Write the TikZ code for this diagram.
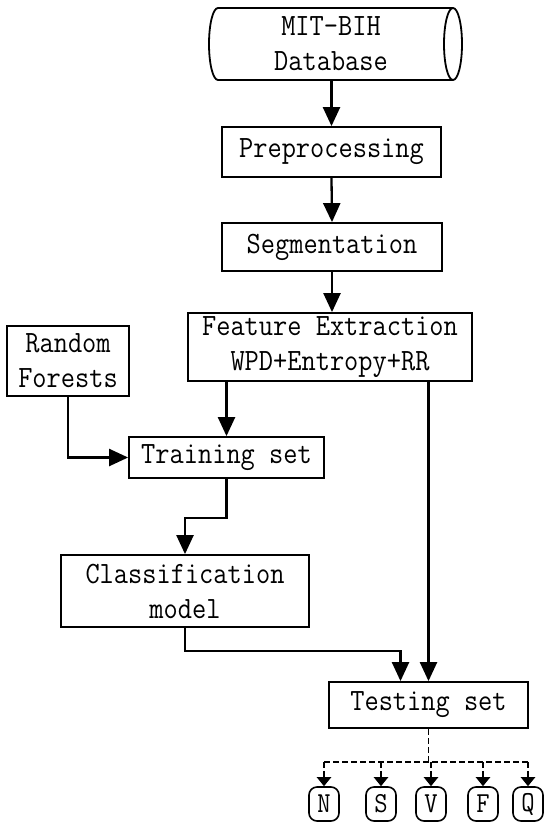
\documentclass[tikz,border=0pt]{standalone}
\usepackage{fontspec}
\setmonofont[FakeStretch=0.89]{Latin Modern Mono}
\usetikzlibrary{arrows.meta,calc}
\begin{document}
\begin{tikzpicture}[x=1pt,y=-1pt,
  font=\ttfamily\fontsize{31}{35}\selectfont,
  box/.style={draw, line width=1.8pt, inner sep=0pt, align=center},
  cls/.style={draw, line width=1.6pt, rounded corners=8pt, inner sep=0pt,
    minimum width=30pt, minimum height=34pt, font=\ttfamily\fontsize{29}{30}\selectfont},
  arr/.style={line width=2.3pt, -{Triangle[length=19pt,width=17pt]}},
  dsh/.style={line width=2.3pt, dash pattern=on 6pt off 3pt},
  sarr/.style={line width=2.3pt, dash pattern=on 6pt off 3pt, -{Triangle[length=9pt,width=14pt]}}]
\useasboundingbox (0,0) rectangle (550,830);
\fill[white] (0,0) rectangle (550,830);

% database cylinder
\node[align=center, inner sep=0pt] (db) at (331,44) {MIT-BIH\\Database};
\draw[line width=1.8pt] (218,8) -- (453,8)
  .. controls (458,8) and (462,24.1) .. (462,44)
  .. controls (462,63.9) and (458,80) .. (453,80) -- (218,80)
  .. controls (213,80) and (209,63.9) .. (209,44)
  .. controls (209,24.1) and (213,8) .. cycle;
\draw[line width=1.8pt] (453,8) .. controls (448,8) and (444,24.1) .. (444,44)
  .. controls (444,63.9) and (448,80) .. (453,80);
\coordinate (dbb) at (332,80);

\node[box, minimum width=219pt, minimum height=50pt] (pre) at (331.5,152) {Preprocessing};
\node[box, minimum width=220pt, minimum height=48pt] (seg) at (332,247) {Segmentation};
\node[box, minimum width=284pt, minimum height=68pt] (fe) at (330,347) {Feature Extraction\\WPD+Entropy+RR};
\node[box, minimum width=122pt, minimum height=70pt] (rf) at (68,361) {Random\\Forests};
\node[box, minimum width=195pt, minimum height=41pt] (tr) at (226.5,457.5) {Training set};
\node[box, minimum width=248pt, minimum height=72pt] (cm) at (185,591) {Classification\\model};
\node[box, minimum width=199pt, minimum height=46pt] (ts) at (428.5,705) {Testing set};

\node[cls] (N) at (324,804) {N};
\node[cls] (S) at (381,804) {S};
\node[cls] (V) at (431,804) {V};
\node[cls] (F) at (483,804) {F};
\node[cls] (Q) at (528,804) {Q};

\draw[arr] (pre.north |- dbb) -- (pre.north);
\draw[arr] (pre.south) -- (seg.north);
\draw[arr] (seg.south) -- (fe.north -| seg.south);
\draw[arr] (tr.north |- fe.south) -- (tr.north);
\draw[arr] (rf.south) |- (tr.west);
\draw[arr] (tr.south) -- ++(0,39) -| (cm.north);
\draw[arr] (cm.south) -- ++(0,23) -| ([xshift=-28pt]ts.north);
\draw[arr] (fe.south -| ts.north) -- (ts.north);

\coordinate (bus) at ($(ts.south)+(0,33)$);
\draw[dsh, line width=1.5pt] (ts.south) -- (bus);
\draw[dsh] (N.north |- bus) -- (Q.north |- bus);
\foreach \k in {N,S,V,F,Q} {
  \draw[sarr] (\k.north |- bus) -- (\k.north);
}
\end{tikzpicture}
\end{document}
